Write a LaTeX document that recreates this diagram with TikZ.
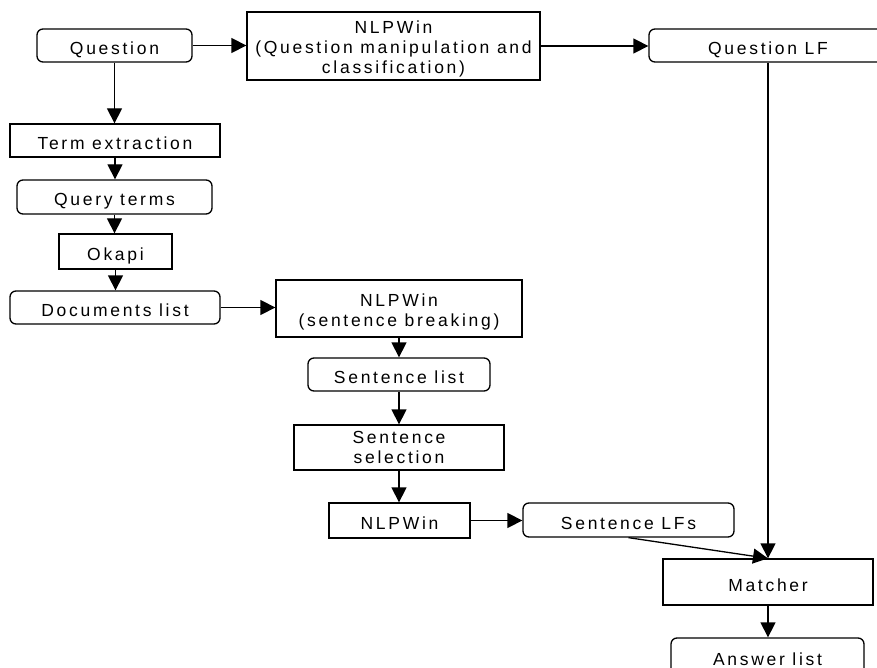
\documentclass[tikz,border=0pt]{standalone}
\usepackage{fontspec}
\setmainfont{Liberation Sans}[LetterSpace=15.5]
\usetikzlibrary{arrows.meta}
\begin{document}
\begin{tikzpicture}[x=1pt,y=-1pt,
  base/.style={draw, line width=1.3pt, inner sep=0pt, font=\fontsize{17.5}{20}\selectfont},
  box/.style={base, text height=18pt, text depth=0pt},
  rbox/.style={box, rounded corners=6pt},
  mbox/.style={base, align=center},
  arr/.style={line width=1.3pt, -{Triangle[length=15pt,width=15pt]}}]
\useasboundingbox (0,0) rectangle (877,668);
\clip (0,0) rectangle (877,668);
% nodes
\node[rbox, minimum width=155pt, minimum height=33pt] (q) at (114.5,45.5) {Question};
\node[mbox, minimum width=293pt, minimum height=68pt] (nlp1) at (393.5,46) {\rule{0pt}{17.8pt}NLPWin\\(Question manipulation and\\classification)};
\node[rbox, minimum width=238pt, minimum height=33pt] (qlf) at (768,45.5) {Question LF};
\node[box, minimum width=210pt, minimum height=33pt] (te) at (115,140.5) {Term extraction};
\node[rbox, minimum width=195pt, minimum height=34pt] (qt) at (114.5,197) {Query terms};
\node[box, minimum width=113pt, minimum height=35pt] (ok) at (115.5,251.5) {Okapi};
\node[rbox, minimum width=210pt, minimum height=33pt] (dl) at (115,307.5) {Documents list};
\node[mbox, minimum width=246pt, minimum height=57pt] (nlp2) at (399,308.5) {\rule{0pt}{19.5pt}NLPWin\\(sentence breaking)};
\node[rbox, minimum width=182pt, minimum height=33pt] (sl) at (399,374.5) {Sentence list};
\node[mbox, minimum width=210pt, minimum height=45pt] (ss) at (399,447.5) {Sentence\\selection};
\node[box, minimum width=141pt, minimum height=35pt] (nlp3) at (399.5,520.5) {NLPWin};
\node[rbox, minimum width=211pt, minimum height=34pt] (slf) at (628.5,520) {Sentence LFs};
\node[box, minimum width=210pt, minimum height=46pt] (m) at (768,582) {Matcher};
\node[rbox, minimum width=193pt, minimum height=36pt] (al) at (767.5,656) {Answer list};
% connectors
\draw[arr] (q.east) -- (q.east -| nlp1.west);
\draw[arr] (nlp1.east) -- (nlp1.east -| qlf.west);
\draw[arr] (q.south) -- (q.south |- te.north);
\draw[arr] (te.south) -- (te.south |- qt.north);
\draw[arr] (qt.south) -- (qt.south |- ok.north);
\draw[arr] (ok.south) -- (ok.south |- dl.north);
\draw[arr] (dl.east) -- (dl.east -| nlp2.west);
\draw[arr] (nlp2.south) -- (sl.north);
\draw[arr] (sl.south) -- (ss.north);
\draw[arr] (ss.south) -- (ss.south |- nlp3.north);
\draw[arr] (nlp3.east) -- (nlp3.east -| slf.west);
\draw[arr] (qlf.south) -- (m.north);
\draw[arr] (slf.south) -- (m.north);
\draw[arr] (m.south) -- (m.south |- al.north);
\end{tikzpicture}
\end{document}
